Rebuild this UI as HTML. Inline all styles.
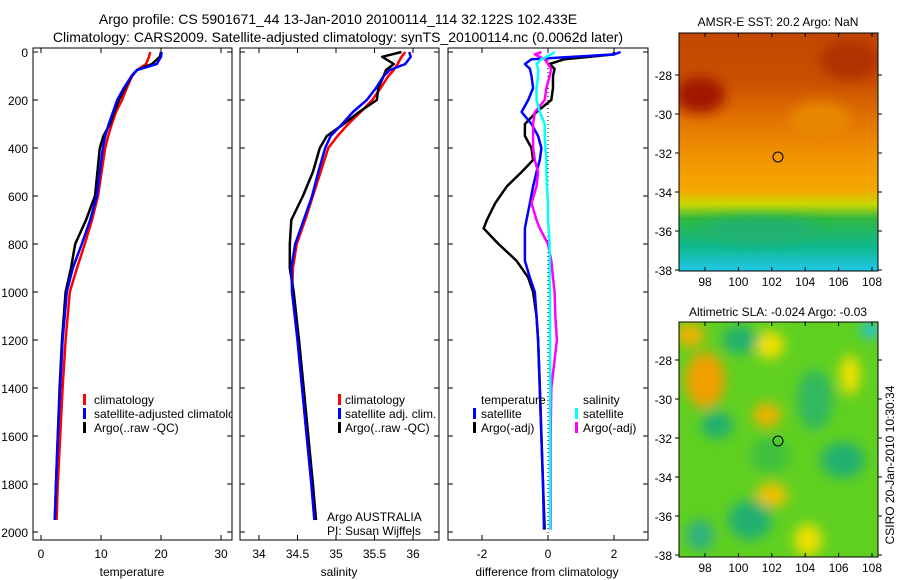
<!DOCTYPE html>
<html><head><meta charset="utf-8"><style>
html,body{margin:0;padding:0;background:#fff;}
svg{display:block;font-family:"Liberation Sans",sans-serif;}
</style></head><body>
<svg id="fig" width="900" height="580" viewBox="0 0 900 580">
<defs>
<linearGradient id="sstg" x1="0" y1="0" x2="0" y2="1">
<stop offset="0" stop-color="#c04800"/><stop offset="0.2" stop-color="#c85000"/><stop offset="0.35" stop-color="#e07000"/>
<stop offset="0.5" stop-color="#f09000"/><stop offset="0.66" stop-color="#f5a800"/><stop offset="0.72" stop-color="#c8d800"/>
<stop offset="0.78" stop-color="#30b840"/><stop offset="0.9" stop-color="#10b890"/><stop offset="1" stop-color="#20c8e8"/>
</linearGradient>
<filter id="bl" x="-50%" y="-50%" width="200%" height="200%"><feGaussianBlur stdDeviation="6"/></filter>
<clipPath id="c1"><rect x="679" y="33" width="199" height="238"/></clipPath>
<clipPath id="c2"><rect x="679" y="322" width="199" height="235"/></clipPath>
<clipPath id="p1"><rect x="33" y="48" width="199" height="492"/></clipPath>
<clipPath id="p2"><rect x="240" y="48" width="199" height="492"/></clipPath>
<clipPath id="p3"><rect x="448" y="48" width="200" height="492"/></clipPath>
</defs>
<g id="titles" font-size="14" text-anchor="middle">
<text x="338" y="24">Argo profile: CS 5901671_44 13-Jan-2010 20100114_114 32.122S 102.433E</text>
<text x="338" y="42">Climatology: CARS2009. Satellite-adjusted climatology: synTS_20100114.nc (0.0062d later)</text>
</g>
<g id="panels"></g>
<g id="maps">
<g clip-path="url(#c1)">
<rect x="679" y="33" width="199" height="238" fill="url(#sstg)"/>
<ellipse cx="700" cy="95" rx="25" ry="18" fill="#a01800" filter="url(#bl)"/>
<ellipse cx="850" cy="60" rx="30" ry="20" fill="#b03000" filter="url(#bl)"/>
<ellipse cx="820" cy="120" rx="30" ry="18" fill="#e88800" filter="url(#bl)"/>
<ellipse cx="760" cy="230" rx="60" ry="12" fill="#20b070" filter="url(#bl)"/>
</g>
<rect x="679" y="33" width="199" height="238" fill="none" stroke="#000"/>
<g clip-path="url(#c2)">
<rect x="679" y="322" width="199" height="235" fill="#60d020"/>
<g filter="url(#bl)">
<ellipse cx="705" cy="380" rx="20" ry="28" fill="#f0a000"/>
<ellipse cx="690" cy="335" rx="14" ry="12" fill="#f0b000"/>
<ellipse cx="770" cy="345" rx="14" ry="14" fill="#f0e000"/>
<ellipse cx="767" cy="415" rx="14" ry="12" fill="#f0b000"/>
<ellipse cx="772" cy="495" rx="16" ry="12" fill="#f0c000"/>
<ellipse cx="808" cy="540" rx="14" ry="16" fill="#f0e000"/>
<ellipse cx="850" cy="375" rx="10" ry="20" fill="#f0e000"/>
<ellipse cx="740" cy="340" rx="18" ry="14" fill="#20b070"/>
<ellipse cx="717" cy="425" rx="16" ry="14" fill="#20b070"/>
<ellipse cx="815" cy="400" rx="18" ry="30" fill="#30b860"/>
<ellipse cx="843" cy="460" rx="22" ry="18" fill="#20b070"/>
<ellipse cx="750" cy="520" rx="22" ry="20" fill="#20b070"/>
<ellipse cx="700" cy="535" rx="14" ry="16" fill="#30b080"/>
<ellipse cx="770" cy="455" rx="20" ry="18" fill="#40c040"/>
<ellipse cx="870" cy="330" rx="10" ry="8" fill="#20c0e0"/>
</g>
</g>
<rect x="679" y="322" width="199" height="235" fill="none" stroke="#000"/>
<circle cx="778" cy="157" r="5" fill="none" stroke="#000"/>
<circle cx="778" cy="441" r="5" fill="none" stroke="#000"/>
<text x="778" y="26" font-size="12" text-anchor="middle">AMSR-E SST: 20.2 Argo: NaN</text>
<text x="778" y="316" font-size="12" text-anchor="middle">Altimetric SLA: -0.024 Argo: -0.03</text>
<text transform="translate(894,465) rotate(-90)" font-size="12" text-anchor="middle">CSIRO 20-Jan-2010 10:30:34</text>
</g>
</svg>
<script>
// ---- data ----
const depths = [0,20,50,75,100,150,200,250,300,350,400,500,600,700,800,900,1000,1200,1400,1600,1800,1950];
const tempClim = [18.2,18.0,17.5,16,15.2,14.3,13.5,12.5,11.8,11.2,10.7,10.1,9.5,8.5,7.3,6,4.8,4.1,3.6,3.2,2.8,2.6];
const tempSat = [20.1,20.0,19.3,16,15.1,13.8,12.7,12,11.3,10.7,10.3,9.8,9.3,8.2,6.8,5.3,4.3,3.6,3.2,2.8,2.5,2.3];
const tempArgo = [20,19.8,18.5,16,15.1,14,13,12.2,11.5,10.4,9.8,9.4,9,7.5,5.7,5,4.1,3.5,3.1,2.8,2.5,2.3];
const salClim = [35.9,35.85,35.8,35.75,35.68,35.58,35.47,35.32,35.16,35.02,34.9,34.8,34.7,34.6,34.49,34.44,34.43,34.5,34.56,34.62,34.68,34.72];
const salSat = [35.95,35.97,35.9,35.7,35.62,35.52,35.4,35.22,35.08,34.93,34.86,34.77,34.69,34.58,34.47,34.42,34.43,34.5,34.56,34.62,34.68,34.72];
const salArgo = [35.85,35.6,35.75,35.65,35.62,35.55,35.53,35.3,35.1,34.88,34.79,34.7,34.57,34.42,34.4,34.4,34.45,34.52,34.58,34.64,34.7,34.74];
const diffDepths = [0,10,30,50,70,100,150,200,250,300,350,400,450,500,560,630,700,735,800,870,940,1000,1100,1200,1400,1600,1800,1990];
const diffTArgo = [2.0,2.0,0.5,0.05,0.2,0.15,0.15,0.1,-0.35,-0.7,-0.7,-0.5,-0.45,-0.8,-1.25,-1.6,-1.85,-1.95,-1.5,-0.95,-0.6,-0.45,-0.35,-0.3,-0.25,-0.2,-0.15,-0.1];
const diffTSat = [2.2,2.0,-0.5,-0.7,-0.55,-0.5,-0.45,-0.6,-0.8,-0.5,-0.3,-0.2,-0.25,-0.35,-0.45,-0.55,-0.65,-0.7,-0.7,-0.7,-0.55,-0.4,-0.35,-0.3,-0.25,-0.2,-0.15,-0.12];
const diffSArgo = [-0.2,-0.4,-0.1,0,0.1,0.05,-0.05,-0.1,-0.4,-0.45,-0.45,-0.45,-0.4,-0.3,-0.35,-0.5,-0.35,-0.25,0,0.1,0.15,0.2,0.22,0.27,0.1,0.08,0.08,0.08];
const diffSSat = [0.2,0.1,-0.2,-0.35,-0.3,-0.3,-0.35,-0.35,-0.25,-0.1,-0.1,-0.08,-0.05,-0.05,-0.03,0,0,0.02,0.05,0.05,0.05,0.06,0.06,0.06,0.07,0.06,0.06,0.06];
const depthTicks = [0,200,400,600,800,1000,1200,1400,1600,1800,2000];
const tempTicks = [0,10,20,30];
const salTicks = [34,34.5,35,35.5,36];
const salTickLabels = ["34","34.5","35","35.5","36"];
const diffTicks = [-2,0,2];
const lonTicks = [98,100,102,104,106,108];
const latTicks = [-28,-30,-32,-34,-36,-38];

const NS='http://www.w3.org/2000/svg';
const G=document.getElementById('panels');
function mk(tag,attrs,parent){const e=document.createElementNS(NS,tag);for(const k in attrs)e.setAttribute(k,attrs[k]);(parent||G).appendChild(e);return e;}
const yD=d=>52+d*0.24;
const xT=v=>41+v*6;
const xS=v=>259+(v-34)*77;
const xDf=v=>548+v*33;

function panel(x0,w,name){
  const r=mk('rect',{x:x0,y:48,width:w,height:492,fill:'none',stroke:'#000'});
  
  
}
function line(xs,ds,xf,color,clip,name){
  const p=xs.map((v,i)=>xf(v).toFixed(1)+','+yD(ds[i]).toFixed(1)).join(' ');
  const e=mk('polyline',{points:p,fill:'none',stroke:color,'stroke-width':2.5,'stroke-linejoin':'round','clip-path':'url(#'+clip+')'});
  
  
}
function xticks(ticks,labels,xf,name){
  ticks.forEach((t,i)=>{
    mk('line',{x1:xf(t),x2:xf(t),y1:540,y2:535,stroke:'#000'});
    mk('line',{x1:xf(t),x2:xf(t),y1:48,y2:53,stroke:'#000'});
    const e=mk('text',{x:xf(t),y:558,'font-size':12,'text-anchor':'middle'});
    e.textContent=labels[i];
    
    
  });
}
function yticks(x0,w){
  depthTicks.forEach(d=>{
    mk('line',{x1:x0,x2:x0+5,y1:yD(d),y2:yD(d),stroke:'#000'});
    mk('line',{x1:x0+w-5,x2:x0+w,y1:yD(d),y2:yD(d),stroke:'#000'});
  });
}
function txt(x,y,s,name,anchor){
  const e=mk('text',{x:x,y:y,'font-size':12,'text-anchor':anchor||'start'});
  e.textContent=s;
  
  
  return e;
}
function mark(x,y,c){mk('rect',{x:x,y:y-10,width:3,height:11,fill:c});}

depthTicks.forEach(d=>{
  const e=mk('text',{x:28,y:yD(d)+5,'font-size':12,'text-anchor':'end'});
  e.textContent=d;
  
  
});

// panel 1 temperature
panel(33,199,'temperature-panel');yticks(33,199);
xticks(tempTicks,tempTicks.map(String),xT,'temperature');
line(tempClim,depths,xT,'#ff0000','p1','temperature-climatology-line');
line(tempArgo,depths,xT,'#000000','p1','temperature-argo-line');
line(tempSat,depths,xT,'#0000ff','p1','temperature-satellite-line');
txt(132,576,'temperature','temperature-axis-title','middle');
mark(83,404,'#ff0000');txt(94,404,'climatology','legend-climatology');
mark(83,418,'#0000ff');txt(94,418,'satellite-adjusted climatology','legend-satellite-adjusted').setAttribute('clip-path','url(#p1)');
mark(83,432,'#000');txt(94,432,'Argo(..raw -QC)','legend-argo-raw');

// panel 2 salinity
panel(240,199,'salinity-panel');yticks(240,199);
xticks(salTicks,salTickLabels,xS,'salinity');
line(salClim,depths,xS,'#ff0000','p2','salinity-climatology-line');
line(salArgo,depths,xS,'#000000','p2','salinity-argo-line');
line(salSat,depths,xS,'#0000ff','p2','salinity-satellite-line');
txt(339,576,'salinity','salinity-axis-title','middle');
mark(338,404,'#ff0000');txt(345,404,'climatology','legend-sal-climatology');
mark(338,418,'#0000ff');txt(345,418,'satellite adj. clim.','legend-sal-satellite');
mark(338,432,'#000');txt(345,432,'Argo(..raw -QC)','legend-sal-argo');
txt(327,521,'Argo AUSTRALIA','argo-australia-label');
txt(327,535,'PI: Susan Wijffels','pi-label');

// panel 3 difference
panel(448,200,'difference-panel');yticks(448,200);
xticks(diffTicks,diffTicks.map(String),xDf,'difference');
mk('line',{x1:xDf(0),x2:xDf(0),y1:48,y2:540,stroke:'#000','stroke-dasharray':'1,3'});
line(diffTArgo,diffDepths,xDf,'#000000','p3','diff-temperature-argo-line');
line(diffTSat,diffDepths,xDf,'#0000ff','p3','diff-temperature-satellite-line');
line(diffSArgo,diffDepths,xDf,'#ff00ff','p3','diff-salinity-argo-line');
line(diffSSat,diffDepths,xDf,'#00ffff','p3','diff-salinity-satellite-line');
txt(547,576,'difference from climatology','difference-axis-title','middle');
txt(481,404,'temperature','legend-temperature-header');
mark(473,418,'#0000ff');txt(481,418,'satellite','legend-diff-temp-satellite');
mark(473,432,'#000');txt(481,432,'Argo(-adj)','legend-diff-temp-argo');
txt(583,404,'salinity','legend-salinity-header');
mark(575,418,'#00ffff');txt(583,418,'satellite','legend-diff-sal-satellite');
mark(575,432,'#ff00ff');txt(583,432,'Argo(-adj)','legend-diff-sal-argo');

// map ticks
const M=document.getElementById('maps');
const xLon=l=>705+(l-98)*16.7;
function mapAxes(top,h,latY){
  lonTicks.forEach(l=>{
    mk('line',{x1:xLon(l),x2:xLon(l),y1:top+h,y2:top+h-4,stroke:'#000'},M);
    mk('line',{x1:xLon(l),x2:xLon(l),y1:top,y2:top+4,stroke:'#000'},M);
    const e=mk('text',{x:xLon(l),y:top+h+15,'font-size':12,'text-anchor':'middle'},M);
    e.textContent=l;
    
    
  });
  latTicks.forEach(a=>{
    const y=latY(a);
    mk('line',{x1:878,x2:882,y1:y,y2:y,stroke:'#000'},M);
    mk('line',{x1:675,x2:679,y1:y,y2:y,stroke:'#000'},M);
    const e=mk('text',{x:672,y:y+5,'font-size':12,'text-anchor':'end'},M);
    e.textContent=a;
    
    
  });
}
mapAxes(33,238,a=>75+(-28-a)*19.5);
mapAxes(322,235,a=>360+(-28-a)*19.5);
</script>
</body></html>
